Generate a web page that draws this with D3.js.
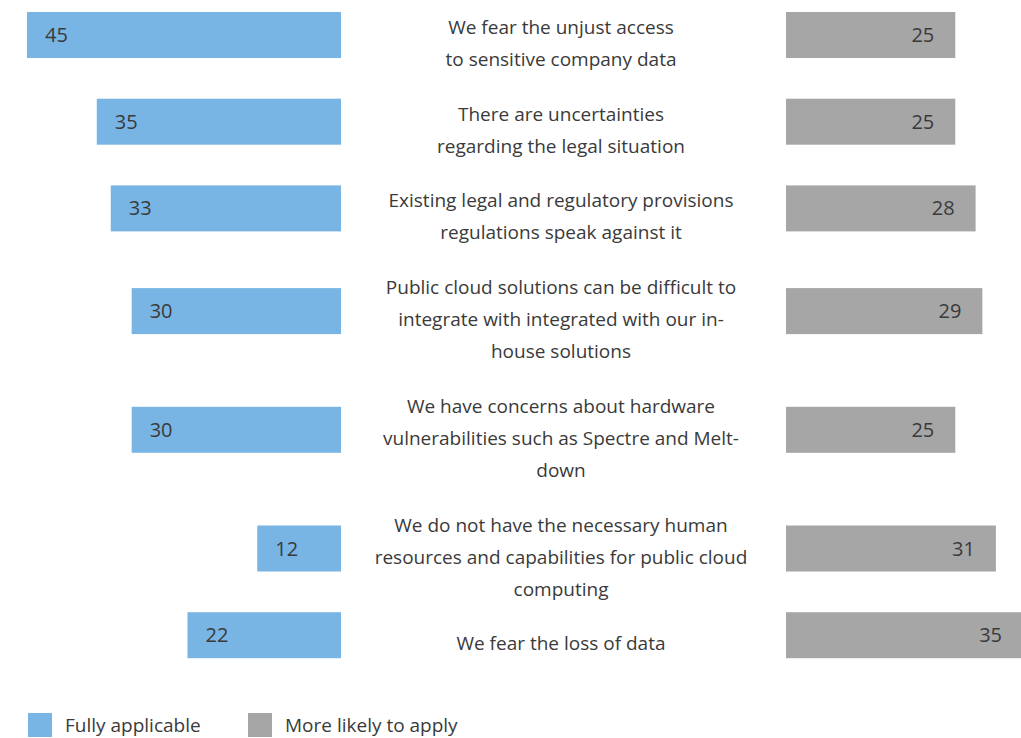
<!DOCTYPE html>
<html>
<head>
<meta charset="utf-8">
<script src="https://cdn.jsdelivr.net/npm/d3@7"></script>
<style>
  html, body { margin: 0; padding: 0; background: #fff; }
  svg { display: block; }
  text { font-family: "Open Sans", "Noto Sans", sans-serif; fill: #3a3a3a; }
</style>
</head>
<body>
<svg id="chart" width="1021" height="738"></svg>
<script>
// ---- data ----
const categories = [
  ["We fear the unjust access", "to sensitive company data"],
  ["There are uncertainties", "regarding the legal situation"],
  ["Existing legal and regulatory provisions", "regulations speak against it"],
  ["Public cloud solutions can be difficult to", "integrate with integrated with our in-", "house solutions"],
  ["We have concerns about hardware", "vulnerabilities such as Spectre and Melt-", "down"],
  ["We do not have the necessary human", "resources and capabilities for public cloud", "computing"],
  ["We fear the loss of data"]
];
const fullyApplicable = [45, 35, 33, 30, 30, 12, 22];
const moreLikely = [25, 25, 28, 29, 25, 31, 35];
const seriesNames = ["Fully applicable", "More likely to apply"];
const colors = ["#78b5e4", "#a6a6a6"];

// ---- layout ----
const svg = d3.select("#chart");
const lineH = 32, rowGap = 54.7, firstBaseline = 34, barH = 46;
const leftEdge = 341, rightEdge = 786, centerX = 561;

// baselines per row derived from line counts
const rows = [];
let b = firstBaseline;
categories.forEach((lines, i) => {
  const baselines = lines.map((_, j) => b + j * lineH);
  const mid = d3.mean(baselines);
  rows.push({ lines, baselines, barCenter: mid - 15, left: fullyApplicable[i], right: moreLikely[i] });
  b = baselines[baselines.length - 1] + rowGap;
});

const xLeft = d3.scaleLinear().domain([0, 45]).range([leftEdge, 27]);
const xRight = d3.scaleLinear().domain([0, 35]).range([rightEdge, rightEdge + 237]);

const g = svg.selectAll("g.row").data(rows).join("g").attr("class", "row");

g.append("rect")
  .attr("x", d => xLeft(d.left))
  .attr("y", d => d.barCenter - barH / 2)
  .attr("width", d => xLeft(0) - xLeft(d.left))
  .attr("height", barH)
  .attr("fill", colors[0]);

g.append("rect")
  .attr("x", xRight(0))
  .attr("y", d => d.barCenter - barH / 2)
  .attr("width", d => xRight(d.right) - xRight(0))
  .attr("height", barH)
  .attr("fill", colors[1]);

g.append("text")
  .attr("x", d => xLeft(d.left) + 18)
  .attr("y", d => d.barCenter + 7)
  .attr("font-size", 20)
  .text(d => d.left);

g.append("text")
  .attr("x", d => xRight(d.right) - 21)
  .attr("y", d => d.barCenter + 7)
  .attr("font-size", 20)
  .attr("text-anchor", "end")
  .text(d => d.right);

g.each(function(d) {
  const t = d3.select(this).append("text")
    .attr("text-anchor", "middle")
    .attr("font-size", 19);
  d.lines.forEach((ln, j) => {
    t.append("tspan").attr("x", centerX).attr("y", d.baselines[j]).text(ln);
  });
});

// ---- legend ----
const legendX = [28, 248];
const lg = svg.selectAll("g.legend").data(seriesNames).join("g").attr("class", "legend")
  .attr("transform", (d, i) => `translate(${legendX[i]},713)`);
lg.append("rect").attr("width", 24).attr("height", 24).attr("fill", (d, i) => colors[i]);
lg.append("text").attr("x", 37).attr("y", 19).attr("font-size", 19).text(d => d);
</script>
</body>
</html>
